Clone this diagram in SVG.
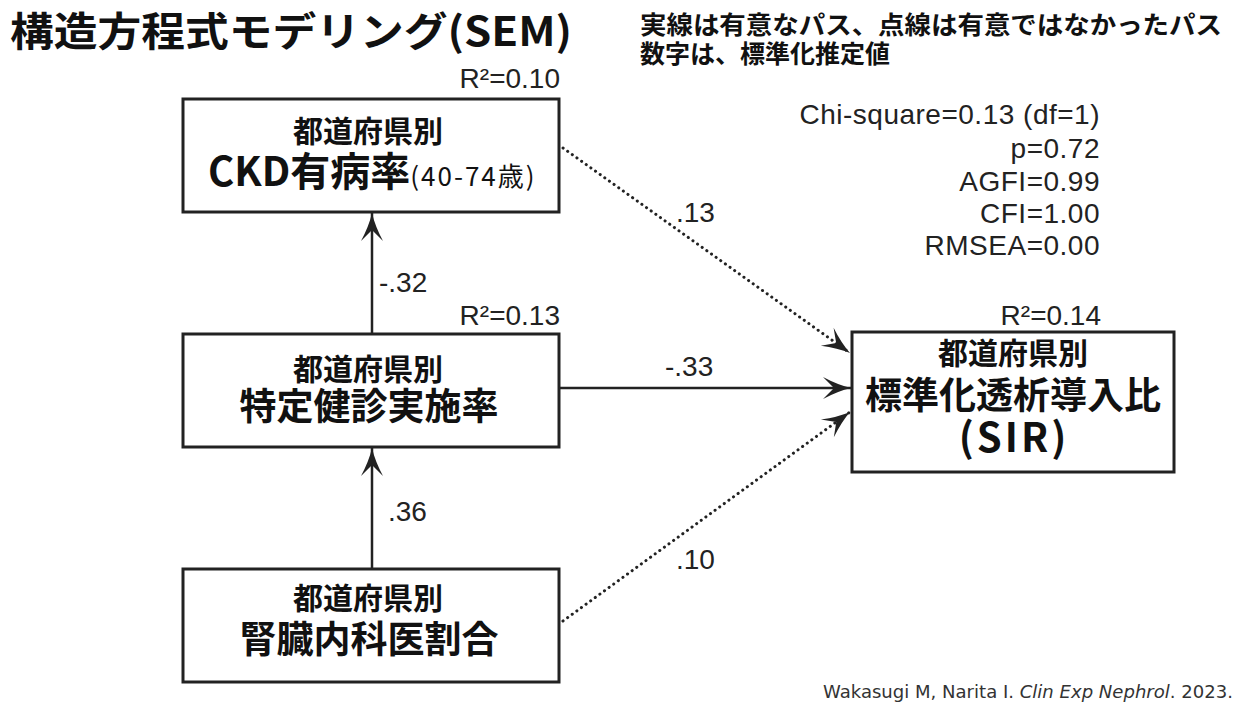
<svg xmlns="http://www.w3.org/2000/svg" width="1235" height="703" viewBox="0 0 1235 703">
<style>
.box{fill:#fff;stroke:#222;stroke-width:3}
.jp{font-family:"Noto Sans CJK JP","Noto Sans",sans-serif;font-weight:bold;fill:#111}
.lat{font-family:"Liberation Sans",Arial,sans-serif;fill:#222}
.solid{stroke:#222;stroke-width:2.5;fill:none}
.dot{stroke:#222;stroke-width:3;fill:none;stroke-dasharray:0.1 5.6;stroke-linecap:round}
</style>
<defs>
<marker id="ah" markerUnits="userSpaceOnUse" viewBox="-29 -12 31 24" refX="0" refY="0" markerWidth="31" markerHeight="24" orient="auto">
<path d="M0,0 Q-13,-3 -28,-11 L-17,0 L-28,11 Q-13,3 0,0 Z" fill="#222"/>
</marker>
</defs>
<rect width="1235" height="703" fill="#fff"/>
<text class="jp" x="10" y="46" font-size="40" textLength="562" lengthAdjust="spacingAndGlyphs">構造方程式モデリング(SEM)</text>
<text class="jp" x="640" y="34" font-size="25" textLength="582" lengthAdjust="spacingAndGlyphs">実線は有意なパス、点線は有意ではなかったパス</text>
<text class="jp" x="640" y="63" font-size="25">数字は、標準化推定値</text>
<g class="lat" font-size="28" text-anchor="end" letter-spacing="0.5">
<text x="1100" y="124">Chi-square=0.13 (df=1)</text>
<text x="1100" y="158">p=0.72</text>
<text x="1100" y="191">AGFI=0.99</text>
<text x="1100" y="223">CFI=1.00</text>
<text x="1100" y="255">RMSEA=0.00</text>
</g>
<g id="connectors">
<line class="solid" x1="372" y1="334" x2="372" y2="213" marker-end="url(#ah)"/>
<line class="solid" x1="372" y1="569" x2="372" y2="448" marker-end="url(#ah)"/>
<line class="solid" x1="559" y1="388" x2="851" y2="388" marker-end="url(#ah)"/>
<line class="dot" x1="563" y1="148" x2="850" y2="353" marker-end="url(#ah)"/>
<line class="dot" x1="563" y1="621" x2="850" y2="412" marker-end="url(#ah)"/>
<g class="lat" font-size="28">
<text x="379" y="292">-.32</text>
<text x="388" y="521">.36</text>
<text x="665" y="376">-.33</text>
<text x="676" y="222">.13</text>
<text x="676" y="569">.10</text>
</g>
</g>
<g id="ckd">
<rect class="box" x="183" y="99" width="376" height="113"/>
<text class="lat" x="560" y="88" font-size="28" text-anchor="end">R²=0.10</text>
<text class="jp" x="368" y="142" font-size="30" text-anchor="middle">都道府県別</text>
<text class="jp" x="208" y="186" font-size="40">CKD有病率<tspan font-size="26" font-weight="normal" letter-spacing="2">(40-74歳)</tspan></text>
</g>
<g id="kenshin">
<rect class="box" x="183" y="334" width="376" height="113"/>
<text class="lat" x="560" y="325" font-size="28" text-anchor="end">R²=0.13</text>
<text class="jp" x="368" y="380" font-size="30" text-anchor="middle">都道府県別</text>
<text class="jp" x="369" y="420" font-size="37" text-anchor="middle">特定健診実施率</text>
</g>
<g id="jinzo">
<rect class="box" x="183" y="569" width="376" height="113"/>
<text class="jp" x="368" y="609" font-size="30" text-anchor="middle">都道府県別</text>
<text class="jp" x="369" y="653" font-size="37" text-anchor="middle">腎臓内科医割合</text>
</g>
<g id="sir">
<rect class="box" x="852" y="332" width="322" height="140"/>
<text class="lat" x="1101" y="325" font-size="28" text-anchor="end">R²=0.14</text>
<text class="jp" x="1013" y="364" font-size="30" text-anchor="middle">都道府県別</text>
<text class="jp" x="1013" y="409" font-size="37" text-anchor="middle">標準化透析導入比</text>
<text class="jp" x="1014" y="452" font-size="40" text-anchor="middle" letter-spacing="3">(SIR)</text>
</g>
<text x="823" y="698" font-family="DejaVu Sans,Verdana,sans-serif" font-size="17" fill="#333" textLength="410" lengthAdjust="spacingAndGlyphs">Wakasugi M, Narita I. <tspan font-style="italic">Clin Exp Nephrol</tspan>. 2023.</text>
</svg>
